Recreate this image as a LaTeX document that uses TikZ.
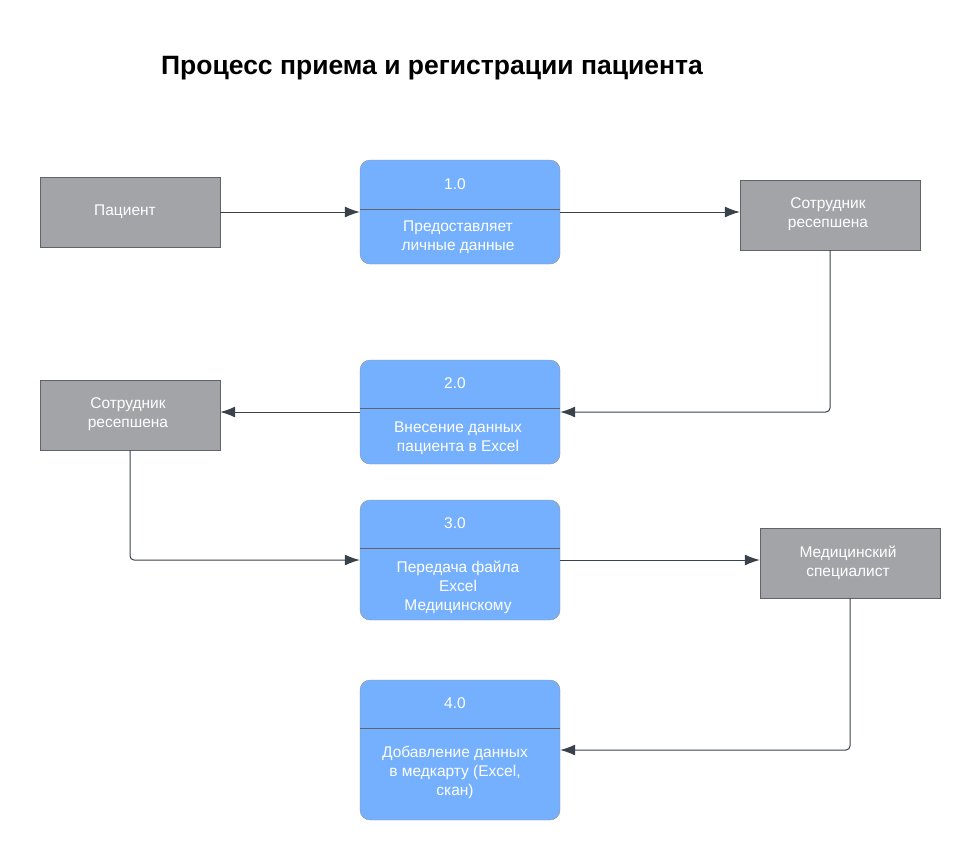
\documentclass[tikz,border=0pt]{standalone}
\usepackage{fontspec}
\setmainfont{Liberation Sans}
\usetikzlibrary{arrows.meta}
\definecolor{procblue}{HTML}{75B0FE}
\definecolor{entgray}{HTML}{A3A4A8}
\definecolor{entline}{HTML}{60636A}
\definecolor{flowline}{HTML}{3A414B}
\begin{document}
\begin{tikzpicture}[x=1pt,y=-1pt]

		\tikzset{entity/.style = {shape=rectangle,draw=entline,fill=entgray,minimum width=180pt,minimum height=70pt,inner sep=0pt}}
		\tikzset{process/.style = {shape=rectangle,rounded corners=10pt,draw=entline!70,fill=procblue,minimum width=200pt,inner sep=0pt}}
		\tikzset{label/.style = {text=white,align=center,font=\fontsize{15.5}{19}\selectfont}}
		\tikzset{divider/.style = {draw=entline,line width=0.8pt}}
		\tikzset{flow/.style = {draw=flowline,line width=1pt,rounded corners=4pt,-{Latex[length=15pt,width=11pt]}}}
		\useasboundingbox (0,0) rectangle (980,860);
		\node[font=\bfseries\fontsize{26.5}{30}\selectfont] (title) at (432,68) {Процесс приема и регистрации пациента};
		%entities
		\node[entity] (pat) at (130,212) {};
		\node[label] (pattxt) at (125,212) {Пациент};
		\node[entity] (rec1) at (830,215) {};
		\node[label] (rec1txt) at (828,214.5) {Сотрудник\\ ресепшена};
		\node[entity] (rec2) at (130,415) {};
		\node[label] (rec2txt) at (128,414.5) {Сотрудник\\ ресепшена};
		\node[entity] (med) at (850,563) {};
		\node[label] (medtxt) at (848,562.5) {Медицинский\\ специалист};
		%processes
		\node[process,minimum height=104pt] (p1) at (460,212) {};
		\draw[divider] (360,209) -- (560,209);
		\node[label] (p1num) at (455,184) {1.0};
		\node[label] (p1txt) at (458,237.5) {Предоставляет\\ личные данные};
		\node[process,minimum height=104pt] (p2) at (460,412) {};
		\draw[divider] (360,408) -- (560,408);
		\node[label] (p2num) at (455,383) {2.0};
		\node[label] (p2txt) at (458,438) {Внесение данных\\ пациента в Excel};
		\node[process,minimum height=120pt] (p3) at (460,560) {};
		\draw[divider] (360,548) -- (560,548);
		\node[label] (p3num) at (455,523) {3.0};
		\node[label] (p3txt) at (458,587) {Передача файла\\ Excel\\ Медицинскому};
		\node[process,minimum height=140pt] (p4) at (460,750) {};
		\draw[divider] (360,728) -- (560,728);
		\node[label] (p4num) at (455,703) {4.0};
		\node[label] (p4txt) at (455,772) {Добавление данных\\ в медкарту (Excel,\\ скан)};
		%edges
		\draw[flow] (pat) -- (p1);
		\draw[flow] (p1.east) -- (p1.east -| rec1.west);
		\draw[flow] (rec1.south) |- (p2.east);
		\draw[flow] (p2.west) -- (p2.west -| rec2.east);
		\draw[flow] (rec2.south) |- (p3.west);
		\draw[flow] (p3.east) -- (p3.east -| med.west);
		\draw[flow] (med.south) |- (p4.east);
		\end{tikzpicture}
\end{document}
